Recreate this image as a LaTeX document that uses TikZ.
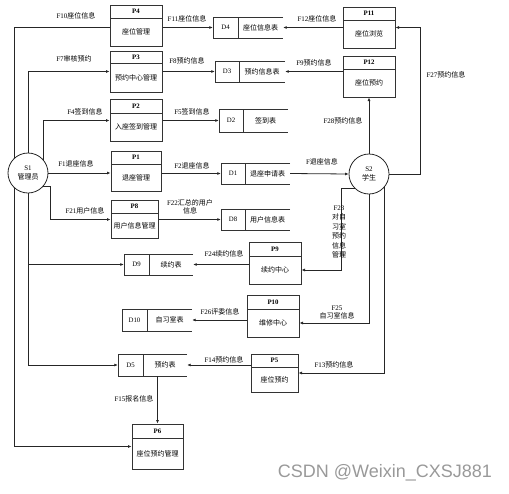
\documentclass[tikz,border=0pt]{standalone}
\usepackage{fontspec}
\setmainfont{Liberation Serif}
\newfontfamily\cjk{Noto Sans CJK SC}
\newfontfamily\wmfont{Liberation Sans}
\usetikzlibrary{arrows.meta,backgrounds}
\newcommand{\zh}[1]{{\cjk #1}}
% process box: name, x1, y1, x2, y2, divider, id, text
\newcommand{\proc}[8]{%
  \node[procbox, minimum width={(#4-#2)*1pt}, minimum height={(#5-#3)*1pt}] (#1) at ({(#2+#4)/2},{(#3+#5)/2}) {};
  \draw[boxline] (#2,#6) -- (#4,#6);
  \node[idtxt] (#1-id) at ({(#2+#4)/2},{(#3+#6)/2}) {\bfseries #7};
  \node[boxtxt] (#1-txt) at ({(#2+#4)/2},{(#6+#5)/2}) {\zh{#8}};
}
% data store: name, x1, y1, divider, x2, y2, id, text
\newcommand{\store}[8]{%
  \node[inner sep=0, minimum width={(#5-#2)*1pt}, minimum height={(#6-#3)*1pt}] (#1) at ({(#2+#5)/2},{(#3+#6)/2}) {};
  \draw[boxline] (#5,#3) -- (#2,#3) -- (#2,#6) -- (#5,#6) (#4,#3) -- (#4,#6);
  \node[idtxt] (#1-id) at ({(#2+#4)/2},{(#3+#6)/2}) {#7};
  \node[boxtxt] (#1-txt) at ({(#4+#5)/2},{(#3+#6)/2}) {\zh{#8}};
}

\begin{document}
\begin{tikzpicture}[x=1pt,y=-1pt,
    boxline/.style={draw=black!80, line width=1pt},
    procbox/.style={rectangle, draw=black!80, line width=1pt, inner sep=0},
    idtxt/.style={font=\fontsize{6.8}{8}\selectfont, inner sep=0},
    boxtxt/.style={font=\fontsize{7}{8}\selectfont, inner sep=0},
    lbl/.style={font=\fontsize{7}{8}\selectfont, inner sep=0},
    ext/.style={circle, draw=black!85, line width=0.8pt, fill=white, minimum size=40pt, inner sep=0, align=center, font=\fontsize{7}{8.5}\selectfont},
    flow/.style={draw=black!85, line width=0.8pt, -{Latex[length=3.5pt,width=3pt]}},
    wm/.style={font=\wmfont\fontsize{18}{20}\selectfont, text=black!40, inner sep=0}]
  \useasboundingbox (0,0) rectangle (509,493);

  % external entities
  \node[ext] (s1) at (28,173) {S1\\\zh{管理员}};
  \node[ext] (s2) at (369,174) {S2\\\zh{学生}};

  % processes
  \proc{p4}{110}{5}{162}{46}{18}{P4}{座位管理}
  \proc{p3}{110}{51}{162}{92}{63}{P3}{预约中心管理}
  \proc{p2}{110}{99}{162}{141}{113}{P2}{入座签到管理}
  \proc{p1}{111}{151}{161}{191}{164}{P1}{退座管理}
  \proc{p8}{111}{200}{158}{238}{213}{P8}{用户信息管理}
  \proc{p11}{343}{7}{395}{48}{20}{P11}{座位浏览}
  \proc{p12}{343}{56}{395}{97}{69}{P12}{座位预约}
  \proc{p9}{249}{242}{301}{284}{256}{P9}{续约中心}
  \proc{p10}{247}{295}{299}{337}{309}{P10}{维修中心}
  \proc{p5}{251}{354}{298}{392}{367}{P5}{座位预约}
  \proc{p6}{132}{424}{183}{469}{438}{P6}{座位预约管理}

  % data stores
  \store{d4}{213}{17}{238}{283}{38}{D4}{座位信息表}
  \store{d3}{215}{61}{239}{285}{82}{D3}{预约信息表}
  \store{d2}{219}{109}{243}{288}{132}{D2}{签到表}
  \store{d1}{221}{163}{245}{290}{184}{D1}{退座申请表}
  \store{d8}{221}{209}{245}{290}{230}{D8}{用户信息表}
  \store{d9}{124}{254}{149}{193}{275}{D9}{续约表}
  \store{d10}{122}{309}{147}{192}{331}{D10}{自习室表}
  \store{d5}{118}{354}{143}{187}{376}{D5}{预约表}

  % flows of the administrator
  \coordinate (outer) at (14,0);
  \begin{scope}[on background layer]
    \draw[flow] (p4.west |- d4) -| (p6.west -| outer) -- (p6.west);
  \end{scope}
  \draw[flow] (s1.north) |- (p3.west |- d3);
  \draw[flow] (s1.41) |- (p2.west |- d2);
  \draw[flow] (s1.east) -- (s1.east -| p1.west);
  \draw[flow] (s1.-41) -- ++(7,0) |- (p8.west |- d8);
  \draw[flow] (s1.south) |- (d5.west);
  \draw[flow] (s1.south |- d9.west) -- (d9.west);

  % flows to the stores
  \draw[flow] (p4.east |- d4) -- (d4.west);
  \draw[flow] (p11.west |- d4) -- (d4.east);
  \draw[flow] (p3.east |- d3) -- (d3.west);
  \draw[flow] (p12.west |- d3) -- (d3.east);
  \draw[flow] (p2.east |- d2) -- (d2.west);
  \draw[flow] (p1.east |- d1) -- (d1.west);
  \draw[flow] (p8.east |- d8) -- (d8.west);
  \draw[flow] (p9.west |- d9) -- (d9.east);
  \draw[flow] (p10.west |- d10) -- (d10.east);
  \draw[flow] (p5.west |- d5) -- (d5.east);
  \draw[flow] (d5.south -| p6.north) -- (p6.north);

  % flows of the student
  \coordinate (east27) at (420,0);
  \coordinate (bend23) at (341,0);
  \draw[flow] (d1.east) -- (s2.west);
  \draw[flow] (s2.east) -| (east27 |- d4) -- (p11.east |- d4);
  \draw[flow] (s2.north) -- (p12.south);
  \draw[flow] (s2.-135) -| (bend23 |- p9-txt) -- (p9.east |- p9-txt);
  \draw[flow] (s2.south) |- (p10.east |- p10-txt);
  \draw[flow] (s2.-41) |- (p5.east);

  % flow labels
  \node[lbl] (f10) at (76,16) {F10\zh{座位信息}};
  \node[lbl] (f7) at (74,59) {F7\zh{审核预约}};
  \node[lbl] (f4) at (85,112) {F4\zh{签到信息}};
  \node[lbl] (f1) at (76,164) {F1\zh{退座信息}};
  \node[lbl] (f21) at (85,211) {F21\zh{用户信息}};
  \node[lbl] (f11) at (187,19) {F11\zh{座位信息}};
  \node[lbl] (f8) at (187,61) {F8\zh{预约信息}};
  \node[lbl] (f5) at (192,112) {F5\zh{签到信息}};
  \node[lbl] (f2) at (192,166) {F2\zh{退座信息}};
  \node[lbl, align=center] (f22) at (190,207) {F22\zh{汇总的用户}\\\zh{信息}};
  \node[lbl] (f12) at (317,19) {F12\zh{座位信息}};
  \node[lbl] (f9) at (314,63) {F9\zh{预约信息}};
  \node[lbl] (f27) at (446,75) {F27\zh{预约信息}};
  \node[lbl] (f28) at (343,121) {F28\zh{预约信息}};
  \node[lbl] (f0) at (322,162) {F\zh{退座信息}};
  \node[lbl, align=center, font=\fontsize{7}{9.4}\selectfont] (f23) at (339,232) {F23\\\zh{对自}\\\zh{习室}\\\zh{预约}\\\zh{信息}\\\zh{管理}};
  \node[lbl] (f24) at (224,254) {F24\zh{续约信息}};
  \node[lbl] (f26) at (220,312) {F26\zh{评委信息}};
  \node[lbl, align=center] (f25) at (337,312) {F25\\\zh{自习室信息}};
  \node[lbl] (f13) at (334,365) {F13\zh{预约信息}};
  \node[lbl] (f14) at (224,360) {F14\zh{预约信息}};
  \node[lbl] (f15) at (134,399) {F15\zh{报名信息}};

  \node[wm] (mark) at (385,473) {CSDN @Weixin\_CXSJ881};
\end{tikzpicture}
\end{document}
